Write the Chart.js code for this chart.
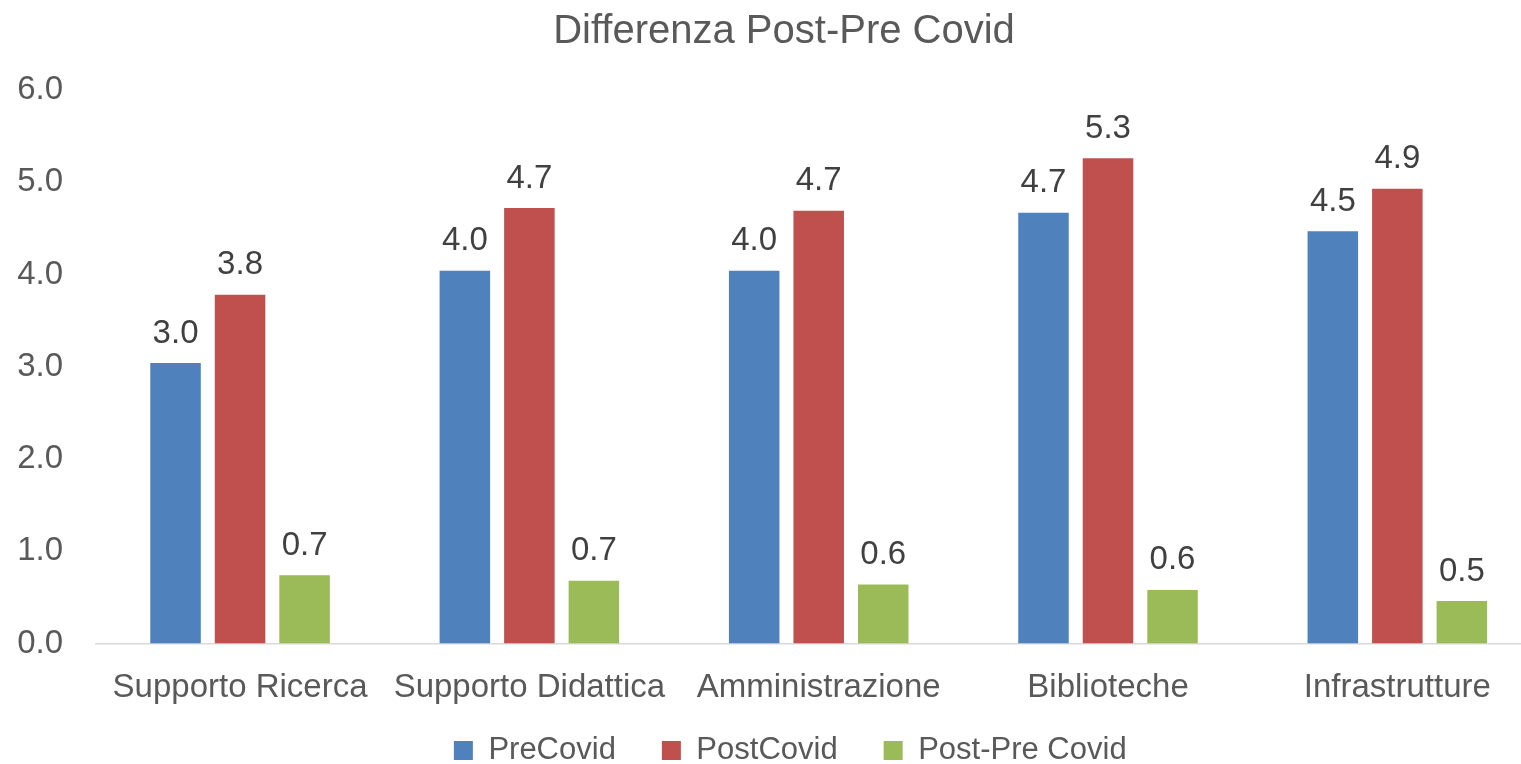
<!DOCTYPE html>
<html><head><meta charset="utf-8">
<script src="https://cdn.jsdelivr.net/npm/chart.js@4/dist/chart.umd.min.js"></script>
<style>
html,body{margin:0;padding:0;overflow:hidden;background:#fff}
#wrap{position:relative;width:1542px;height:764px}
</style>
</head><body>
<div id="wrap"><canvas id="c"></canvas></div>
<script>
const categories = ['Supporto Ricerca', 'Supporto Didattica', 'Amministrazione', 'Biblioteche', 'Infrastrutture'];
const preCovid = [3.04, 4.04, 4.04, 4.67, 4.47];
const postCovid = [3.78, 4.72, 4.69, 5.26, 4.93];
const postPreDiff = [0.74, 0.68, 0.64, 0.58, 0.46];
const seriesNames = ['PreCovid', 'PostCovid', 'Post-Pre Covid'];
const seriesColors = ['#4F81BD', '#C0504D', '#9BBB59'];
const yMin = 0, yMax = 6, yStep = 1;
const chartTitle = 'Differenza Post-Pre Covid';

const FONT = "'Liberation Sans', Arial, sans-serif";
Chart.defaults.font.family = FONT;

const valueLabels = {
  id: 'valueLabels',
  afterDatasetsDraw(chart) {
    const ctx = chart.ctx;
    ctx.save();
    ctx.font = '33px ' + FONT;
    ctx.fillStyle = '#404040';
    ctx.textAlign = 'center';
    ctx.textBaseline = 'alphabetic';
    chart.data.datasets.forEach((ds, i) => {
      const meta = chart.getDatasetMeta(i);
      if (meta.hidden) return;
      meta.data.forEach((el, j) => {
        ctx.fillText(ds.data[j].toFixed(1), el.x, el.y - 20.5);
      });
    });
    ctx.restore();
  }
};

const shiftBoxes = {
  id: 'shiftBoxes',
  afterLayout(chart) {
    if (chart.titleBlock) { chart.titleBlock.left += 13; chart.titleBlock.right += 13; }
    if (chart.legend) { chart.legend.left += 19.25; chart.legend.right += 19.25; }
    // let the category labels extend below the (short) x-axis box without being clipped
    if (chart.scales.x) { chart.scales.x.bottom = chart.height; }
  }
};

const datasets = [preCovid, postCovid, postPreDiff].map((d, i) => ({
  label: seriesNames[i],
  data: d,
  backgroundColor: seriesColors[i],
  borderWidth: 0,
  categoryPercentage: 0.669,
  barPercentage: 0.783
}));

new Chart(document.getElementById('c'), {
  type: 'bar',
  data: { labels: categories, datasets },
  plugins: [valueLabels, shiftBoxes],
  options: {
    responsive: true,
    maintainAspectRatio: false,
    animation: false,
    layout: { padding: { top: 0, left: 0, right: 0, bottom: -12 } },
    plugins: {
      title: {
        display: true,
        text: chartTitle,
        color: '#595959',
        font: { size: 40, weight: 'normal' },
        padding: { top: 7.5, bottom: 34.5 }
      },
      legend: {
        position: 'bottom',
        labels: {
          color: '#595959',
          font: { size: 31 },
          boxWidth: 19,
          boxHeight: 19,
          padding: 46
        }
      },
      tooltip: { enabled: false }
    },
    scales: {
      x: {
        grid: { display: false, drawTicks: false },
        border: { display: true, color: '#D9D9D9', width: 1.5 },
        ticks: { color: '#595959', font: { size: 33 }, padding: 24.3, maxRotation: 0, autoSkip: false },
        afterFit(scale) { scale.height = 45.5; }
      },
      y: {
        min: yMin, max: yMax,
        grid: { display: false, drawTicks: false },
        border: { display: false },
        ticks: {
          stepSize: yStep,
          color: '#595959',
          font: { size: 33 },
          padding: 32.4,
          callback: v => Number(v).toFixed(1)
        },
        afterFit(scale) { scale.width = 95.4; }
      }
    }
  }
});
</script>
</body></html>
